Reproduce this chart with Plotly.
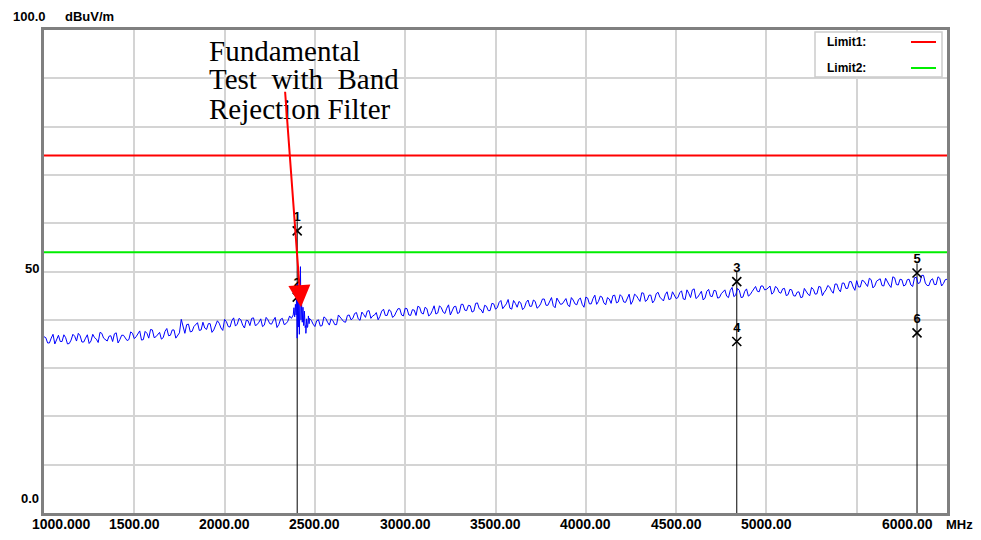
import numpy as np
import plotly.graph_objects as go

# ---------------- data ----------------
sweep_start, sweep_stop = 1000, 6000
# sweep points every 20 MHz from 1000 to 6000 MHz (dBuV/m)
sweep_levels = [
    36.5, 35.2, 36.2, 35.0, 36.8, 35.5, 36.3, 35.1, 37.0, 35.6,
    36.7, 35.4, 36.9, 35.6, 36.3, 35.3, 37.2, 35.8, 36.6, 35.5,
    37.3, 35.9, 36.8, 35.7, 37.5, 36.1, 37.0, 35.8, 37.6, 36.2,
    37.9, 36.5, 37.4, 36.3, 38.2, 36.8, 37.9, 36.9, 40.1, 37.2,
    39.1, 37.6, 38.9, 37.8, 39.5, 38.0, 39.2, 37.9, 39.8, 38.3,
    40.1, 38.6, 39.8, 38.7, 40.3, 38.9, 39.9, 38.8, 40.4, 39.0,
    40.2, 38.9, 40.0, 39.1, 40.5, 39.0, 40.3, 39.2, 40.8,
    41.0, 44.0, 43.0, 40.5, 38.5,
    39.9, 38.6, 40.0, 38.8, 40.3, 38.9, 39.8, 39.0, 40.6, 39.6, 40.9,
    40.0, 41.3, 40.2, 41.6, 40.5, 41.9, 40.8, 41.5, 40.7, 42.2, 40.9, 41.8, 40.8, 42.3, 41.0,
    42.4, 41.0, 42.1, 40.9, 42.6, 41.2, 42.3, 41.1, 42.9, 41.4,
    42.5, 41.3, 43.1, 41.7, 42.8, 41.5, 43.2, 41.9, 42.9, 41.8,
    43.5, 42.1, 43.0, 41.9, 43.4,
    42.2, 43.6, 42.3, 43.3, 42.4, 44.0, 42.6, 43.5, 42.5, 44.1,
    42.8, 43.8, 42.7, 44.3, 43.0, 43.9, 42.9, 44.5, 43.2, 44.0,
    43.1, 44.6, 43.3, 44.2, 43.2,
    44.7, 43.3, 44.4, 43.2, 44.9, 43.5, 44.6, 43.4, 45.1, 43.7,
    44.8, 43.6, 45.3, 43.9, 45.0, 43.8, 45.5, 44.1, 45.1, 44.0,
    45.7, 44.3, 45.2, 44.2, 45.8,
    44.4, 45.6, 44.3, 46.2, 44.6, 46.4, 44.7, 45.9, 44.5, 46.3,
    44.8, 46.0, 44.6, 45.8, 44.9, 46.1, 44.8, 46.5, 44.6, 45.9,
    44.9, 45.8, 46.9, 45.8, 47.0,
    46.3, 47.0, 45.7, 46.6, 45.5, 46.5, 45.2, 46.2, 44.9, 45.8, 44.7, 45.9,
    45.0, 46.3, 45.4, 46.8, 45.7, 47.1, 46.0, 47.4, 46.3, 47.6, 46.5, 47.9, 46.8,
    48.1, 46.8, 48.0, 46.9, 48.3, 47.0, 48.2, 47.1, 48.6, 47.2,
    48.9, 47.3, 48.4, 47.0, 48.3, 47.2, 48.7, 47.5, 49.2, 47.6,
    47.1, 48.5, 47.3, 48.6, 47.5, 48.4,
]
# in-between sweep points (midway between consecutive 20 MHz points)
mid_levels = [
    36.3, 35.2, 37.0, 36.1, 35.5, 36.9, 35.0, 35.8, 36.6, 37.2, 35.4, 36.2, 35.1,
    37.0, 36.0, 37.4, 36.2, 35.6, 36.7, 37.1, 35.2, 36.8, 36.3, 35.9, 37.2,
    36.5, 37.7, 35.9, 37.2, 38.0, 36.3, 37.0, 36.0, 37.6, 36.7, 37.9, 36.2, 37.3,
    38.6,
    39.0, 37.5, 38.6, 39.4, 37.9, 38.3, 39.2, 37.4, 38.8, 39.3, 37.8,
    39.6, 38.5, 40.4, 39.1, 40.0, 38.3, 39.8, 40.3, 38.8, 39.5, 38.6, 40.5, 39.2,
    39.9, 38.4, 40.1, 39.0, 39.7, 40.3,
    41.5, 42.0, 40.5, 38.8,
    40.3, 39.1, 39.8, 38.7, 40.6, 39.5, 40.2, 39.0, 41.0, 40.1, 39.5, 41.0,
    40.3, 41.5, 39.9, 41.1, 41.8, 40.3, 41.0, 40.0, 41.8, 40.9, 42.1, 40.5, 41.6, 42.3, 40.8,
    42.3, 40.9, 42.0, 42.8, 41.4, 42.6, 40.8, 41.9, 41.2, 42.9, 41.6, 42.4, 41.0,
    42.7, 41.3, 43.2, 42.0, 43.0, 41.6, 43.4, 42.3, 41.4, 42.8, 41.9, 43.3,
    42.5, 44.0, 42.9, 44.2, 42.2, 43.4, 43.8, 42.1, 43.6, 42.8, 44.1, 42.4, 43.3,
    44.3, 43.0, 44.6, 42.5, 43.9, 43.3, 44.4, 42.7, 44.1, 43.1, 44.5, 42.6,
    44.5, 43.3, 45.1, 43.8, 44.7, 43.1, 44.3, 45.0, 43.5, 45.2, 43.7, 44.4, 43.2,
    45.3, 44.4, 45.6, 43.8, 45.1, 43.5, 45.4, 44.7, 43.9, 45.8, 44.3, 45.2,
    44.6, 46.0, 44.2, 45.5, 46.2, 44.4, 45.3, 44.1, 45.9, 44.9, 46.1, 44.5, 45.4,
    46.2, 44.6, 46.7, 45.1, 46.1, 44.7, 46.4, 45.2, 46.5,
    45.9, 47.0, 46.2,
    46.6, 45.3, 46.9, 45.7, 46.4, 45.0, 46.3, 45.0, 45.7, 44.6, 46.5, 45.3,
    46.7, 45.3, 46.9, 45.0, 46.2, 46.8, 45.5, 47.4, 45.8, 47.6, 46.5, 47.9, 46.1,
    46.8, 48.2, 47.3, 48.6, 46.6, 48.0, 48.5, 47.0, 47.8, 46.7, 48.7, 47.2, 48.3,
    47.2, 48.4, 46.9, 48.8, 47.7, 49.2, 47.1, 48.2, 47.3, 48.9, 47.0, 48.3,
]

# fine detail around the fundamental (MHz, dBuV/m)
fund_freq = [2384, 2388, 2392, 2396, 2399, 2402, 2405, 2408, 2411, 2414,
             2417, 2420, 2423, 2426, 2430, 2434, 2438, 2442, 2446, 2450,
             2454, 2458, 2464, 2468]
fund_level = [42.5, 40.6, 43.2, 41.0, 46.0, 36.2, 47.5, 38.5, 45.0, 37.0,
              44.0, 51.0, 40.0, 43.5, 39.5, 42.6, 38.8, 41.8, 38.4, 37.2,
              40.2, 38.4, 40.8, 39.2]

limit1 = 74.0
limit2 = 54.0

marker_ids = ["1", "2", "3", "4", "5", "6"]
marker_freq = [2402, 2402, 4836, 4836, 5834, 5834]
marker_level = [58.4, 44.7, 47.9, 35.5, 49.7, 37.3]

x_tick_vals = [1000, 1500, 2000, 2500, 3000, 3500, 4000, 4500, 5000, 6000]
x_tick_text = ["1000.000", "1500.00", "2000.00", "2500.00", "3000.00",
               "3500.00", "4000.00", "4500.00", "5000.00", "6000.00"]

# ---------------- build ----------------
sweep_freq = np.linspace(sweep_start, sweep_stop, len(sweep_levels))
mid_freq = (sweep_freq[:-1] + sweep_freq[1:]) / 2
n_mid = min(len(mid_freq), len(mid_levels))
all_f = np.concatenate([sweep_freq, mid_freq[:n_mid], fund_freq])
all_l = np.concatenate([sweep_levels, mid_levels[:n_mid], fund_level])
order = np.argsort(all_f, kind="stable")
trace_f = all_f[order]
trace_l = all_l[order]

fig = go.Figure()

# marker drop lines (from 0 up to the upper marker of each pair)
for i in range(0, len(marker_freq), 2):
    fig.add_trace(go.Scatter(
        x=[marker_freq[i], marker_freq[i]], y=[0, marker_level[i] + 2],
        mode="lines", line=dict(color="black", width=1), hoverinfo="skip",
        showlegend=False))

fig.add_trace(go.Scatter(
    x=[sweep_start, sweep_stop], y=[limit1, limit1], mode="lines",
    line=dict(color="#ff0000", width=2), showlegend=False))
fig.add_trace(go.Scatter(
    x=[sweep_start, sweep_stop], y=[limit2, limit2], mode="lines",
    line=dict(color="#00ee00", width=2), showlegend=False))

fig.add_trace(go.Scatter(
    x=trace_f, y=trace_l, mode="lines",
    line=dict(color="#0000ff", width=1), showlegend=False))

fig.add_trace(go.Scatter(
    x=marker_freq, y=marker_level, mode="markers+text",
    text=marker_ids, textposition="top center",
    textfont=dict(family="Arial, Liberation Sans", size=13, color="black", weight="bold"),
    marker=dict(symbol="x-thin", size=9, line=dict(color="black", width=1.6)),
    showlegend=False))

# page body has an 8px margin on every side; keep the figure inside the window
# plot area target in window pixels: x 44..947, y 30..513
OFF = 8
W, H = 981, 540
PL, PR, PT, PB = 44, 947, 30, 513
FIG_W = W - 2 * OFF
FIG_H = H - 2 * OFF
def px(xp):
    return (xp - PL) / (PR - PL)
def py(yp):
    return (PB - yp) / (PB - PT)

ann = []
lab_font = dict(family="Arial, Liberation Sans", size=14, color="black", weight="bold")
for v, t in zip(x_tick_vals, x_tick_text):
    a = dict(x=v, xref="x", y=py(524), yref="paper", text=t, showarrow=False,
             font=lab_font, xanchor="center", yanchor="middle")
    if v == sweep_start:
        a.update(xanchor="left", xshift=-14)
    if v == sweep_stop:
        a.update(xanchor="right", xshift=-12)
    ann.append(a)
ann.append(dict(x=px(974), xref="paper", y=py(524), yref="paper", text="MHz",
                showarrow=False, font=dict(lab_font, size=13), xanchor="right",
                yanchor="middle", borderpad=0))

ylab_font = dict(family="Arial, Liberation Sans", size=13, color="black", weight="bold")
ann.append(dict(x=px(48), xref="paper", y=py(17), yref="paper", text="100.0",
                showarrow=False, font=ylab_font, xanchor="right", yanchor="middle"))
ann.append(dict(x=px(63), xref="paper", y=py(17), yref="paper", text="dBuV/m",
                showarrow=False, font=ylab_font, xanchor="left", yanchor="middle"))
ann.append(dict(x=px(41), xref="paper", y=py(268), yref="paper", text="50",
                showarrow=False, font=ylab_font, xanchor="right", yanchor="middle"))
ann.append(dict(x=px(41), xref="paper", y=py(498), yref="paper", text="0.0",
                showarrow=False, font=ylab_font, xanchor="right", yanchor="middle"))

# legend box contents
leg_font = dict(family="Arial, Liberation Sans", size=12, color="black", weight="bold")
ann.append(dict(x=px(825), xref="paper", y=py(42), yref="paper", text="Limit1:",
                showarrow=False, font=leg_font, xanchor="left", yanchor="middle"))
ann.append(dict(x=px(825), xref="paper", y=py(68), yref="paper", text="Limit2:",
                showarrow=False, font=leg_font, xanchor="left", yanchor="middle"))

# big note text
note_font = dict(family="Liberation Serif, Times New Roman, serif", size=29, color="black")
note_lines = ["Fundamental", "Test\u00a0\u00a0with\u00a0\u00a0Band", "Rejection Filter"]
note_y = [51, 79, 109]
for t, yy in zip(note_lines, note_y):
    ann.append(dict(x=px(207), xref="paper", y=py(yy), yref="paper", text=t,
                    showarrow=False, font=note_font, xanchor="left", yanchor="middle"))

# red arrow
ann.append(dict(x=2423, y=42.6, xref="x", yref="y", text="", showarrow=True,
                ax=-16, ay=-217, arrowcolor="#ff0000", arrowwidth=2,
                arrowhead=2, arrowsize=2.2, standoff=0))

shapes = [
    dict(type="rect", xref="paper", yref="paper", x0=px(815), x1=px(942),
         y0=py(77), y1=py(32), line=dict(color="#cccccc", width=1.5),
         fillcolor="white", layer="above"),
    dict(type="line", xref="paper", yref="paper", x0=px(911), x1=px(936),
         y0=py(42), y1=py(42), line=dict(color="#ff0000", width=2)),
    dict(type="line", xref="paper", yref="paper", x0=px(911), x1=px(936),
         y0=py(68), y1=py(68), line=dict(color="#00ee00", width=2)),
]

fig.update_layout(
    width=FIG_W, height=FIG_H,
    margin=dict(l=PL - OFF, r=(OFF + FIG_W) - PR, t=PT - OFF, b=(OFF + FIG_H) - PB),
    paper_bgcolor="white", plot_bgcolor="white",
    showlegend=False,
    annotations=ann, shapes=shapes,
)
fig.update_xaxes(range=[sweep_start, sweep_stop], dtick=500, tick0=1000,
                 showgrid=True, gridcolor="#d4d4d4", gridwidth=1.5,
                 showticklabels=False, ticks="", zeroline=False,
                 showline=True, linecolor="#808080", linewidth=2.5, mirror=True)
fig.update_yaxes(range=[0, 100], dtick=10, tick0=0,
                 showgrid=True, gridcolor="#d4d4d4", gridwidth=1.5,
                 showticklabels=False, ticks="", zeroline=False,
                 showline=True, linecolor="#808080", linewidth=2.5, mirror=True)

fig.write_html("out.html")
